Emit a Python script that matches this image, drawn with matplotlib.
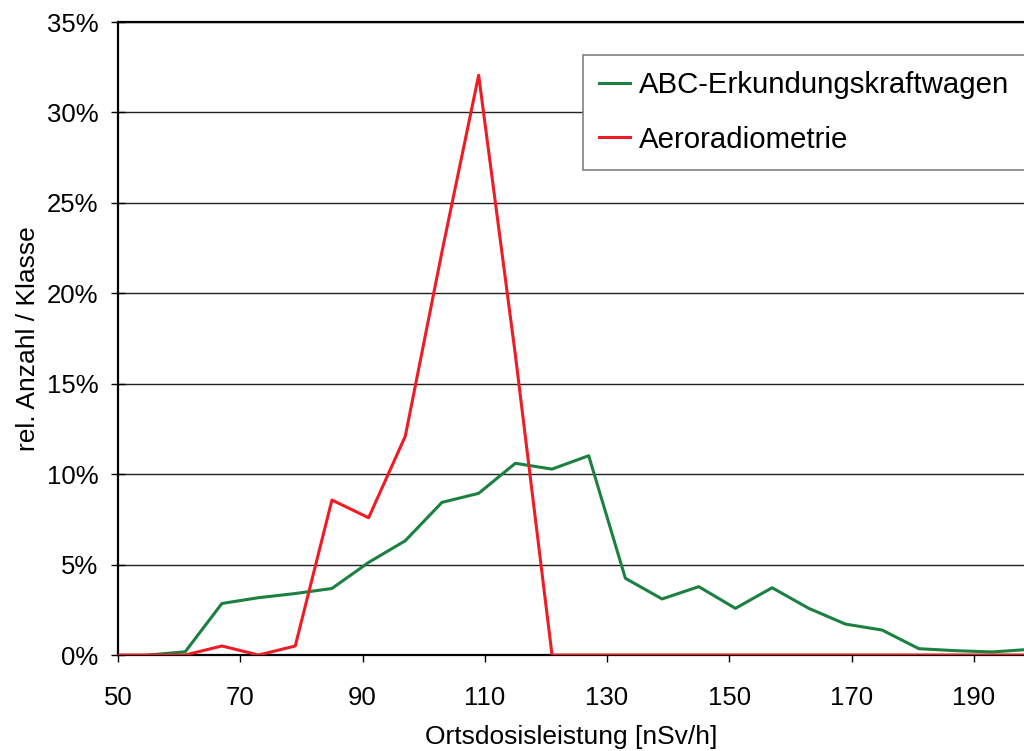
import matplotlib
matplotlib.use("Agg")
import matplotlib.pyplot as plt
import matplotlib.ticker as mticker

plt.rcParams["font.family"] = ["Liberation Sans", "DejaVu Sans"]

# class centres [nSv/h]
dose_abc = [55, 61, 67, 73, 79, 85, 91, 97, 103, 109, 115, 121, 127,
            133, 139, 145, 151, 157, 163, 169, 175, 181, 187, 193, 199]
dose_aero = [49, 55, 61, 67, 73, 79, 85, 91, 97, 103, 109, 115, 121, 127,
             133, 139, 145, 151, 157, 163, 169, 175, 181, 187, 193, 199]

# relative share per class [%]
share_abc = [0.0, 0.18, 2.85, 3.17, 3.4, 3.68, 5.12, 6.32, 8.44, 8.94, 10.6, 10.28, 11.02,
             4.24, 3.1, 3.78, 2.58, 3.72, 2.58, 1.71, 1.38, 0.35, 0.24, 0.17, 0.31]
share_aero = [0.0, 0.0, 0.0, 0.5, 0.0, 0.5, 8.57, 7.59, 12.1, 22.3, 32.06, 16.6, 0.0, 0.0,
              0.0, 0.0, 0.0, 0.0, 0.0, 0.0, 0.0, 0.0, 0.0, 0.0, 0.0, 0.0]

label_abc = "ABC-Erkundungskraftwagen"
label_aero = "Aeroradiometrie"

x_ticks = [50, 70, 90, 110, 130, 150, 170, 190]
y_ticks = [0, 5, 10, 15, 20, 25, 30, 35]

fig = plt.figure(figsize=(10.24, 7.51), dpi=100)
ax = fig.add_axes([0.1152, 0.1278, 0.8848, 0.8429])

ax.plot(dose_abc, share_abc, color="#1b8040", linewidth=2.2, label=label_abc, zorder=3)
ax.plot(dose_aero, share_aero, color="#ee1c25", linewidth=2.2, label=label_aero, zorder=4)

ax.set_xlim(50, 198.2)
ax.set_ylim(0, 35)
ax.set_xticks(x_ticks)
ax.set_yticks(y_ticks)
ax.yaxis.set_major_formatter(mticker.FuncFormatter(lambda v, p: "%d%%" % v))

ax.grid(axis="y", color="#222222", linewidth=1.0)
ax.set_axisbelow(True)
ax.spines["right"].set_visible(False)
for side in ["top", "left", "bottom"]:
    ax.spines[side].set_linewidth(1.6)

ax.tick_params(axis="x", direction="out", length=5, width=1.0, pad=17, labelsize=18.5)
ax.tick_params(axis="y", direction="inout", length=10, width=1.0, pad=9, labelsize=18.5)

ax.set_xlabel("Ortsdosisleistung [nSv/h]", fontsize=19, labelpad=11)
ax.set_ylabel("rel. Anzahl / Klasse", fontsize=19, labelpad=5)

leg = fig.legend(
    loc="upper left",
    bbox_to_anchor=(583 / 1024, 1 - 55 / 751),
    fontsize=21.2,
    frameon=True,
    fancybox=False,
    framealpha=1,
    edgecolor="#808080",
    handlelength=1.05,
    handletextpad=0.3,
    borderpad=0.55,
    labelspacing=0.9,
    borderaxespad=0,
)
leg.get_frame().set_linewidth(1.2)

fig.savefig("out.png", dpi=100)
